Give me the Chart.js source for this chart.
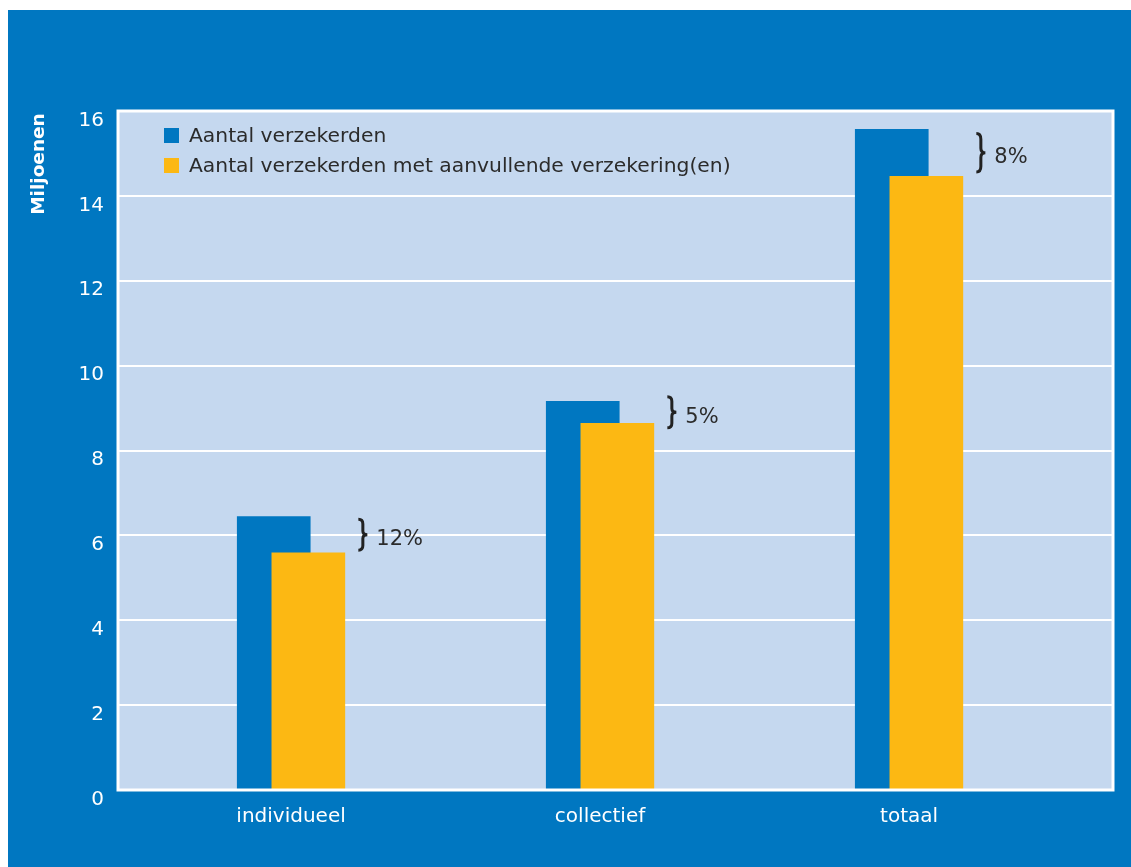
<!DOCTYPE html>
<html>
<head>
<meta charset="utf-8">
<script src="https://cdn.jsdelivr.net/npm/chart.js@4.4.1/dist/chart.umd.min.js"></script>
<style>
    html, body { margin: 0; padding: 0; background: #ffffff; }
    #panel {
        position: absolute;
        left: 8px; top: 10px;
        width: 1123px; height: 857px;
        background: #0077c1;
    }
</style>
</head>
<body>
<div id="panel"><canvas id="chart" width="1123" height="857"></canvas></div>
<script>
// ─── Data ────────────────────────────────────────────────
const categories = ['individueel', 'collectief', 'totaal'];
const insured = [6.44, 9.16, 15.57];          // Aantal verzekerden (miljoenen)
const supplementary = [5.59, 8.64, 14.46];    // met aanvullende verzekering(en)
const gapLabels = ['12%', '5%', '8%'];
const yTicks = [0, 2, 4, 6, 8, 10, 12, 14, 16];
const seriesNames = ['Aantal verzekerden', 'Aantal verzekerden met aanvullende verzekering(en)'];

// Colours
const colors = {
    blue: '#0077c1',
    yellow: '#fcb813',
    plot: '#c5d8ef',
    white: '#ffffff',
    ink: '#2b2b2b'
};
const FONT = "'DejaVu Sans', sans-serif";
const SHIFT = 0.056; // half offset between the two overlapping bars (category units)

// Plot background + white frame
const plotFrame = {
    id: 'plotFrame',
    beforeDraw(chart) {
        const { ctx, chartArea: a } = chart;
        ctx.save();
        ctx.fillStyle = colors.plot;
        ctx.fillRect(a.left, a.top, a.right - a.left, a.bottom - a.top);
        ctx.restore();
    },
    afterDatasetsDraw(chart) {
        const { ctx, chartArea: a } = chart;
        ctx.save();
        ctx.strokeStyle = colors.white;
        ctx.lineWidth = 3;
        ctx.strokeRect(a.left, a.top, a.right - a.left, a.bottom - a.top);
        ctx.restore();
    }
};

// Legend inside the plot, title on the left, braces with percentages
const annotations = {
    id: 'annotations',
    afterDraw(chart) {
        const { ctx, chartArea: a, scales } = chart;
        ctx.save();

        // legend
        const swatches = [colors.blue, colors.yellow];
        ctx.font = `20.3px ${FONT}`;
        ctx.textBaseline = 'middle';
        ctx.textAlign = 'left';
        seriesNames.forEach((name, i) => {
            const y = a.top + 25 + i * 30;
            ctx.fillStyle = swatches[i];
            ctx.fillRect(a.left + 46, y - 8, 15, 15);
            ctx.fillStyle = colors.ink;
            ctx.fillText(name, a.left + 71, y + 1);
        });

        // axis title
        ctx.save();
        ctx.translate(31, a.top + 53);
        ctx.rotate(-Math.PI / 2);
        ctx.font = `bold 18.5px ${FONT}`;
        ctx.fillStyle = colors.white;
        ctx.textAlign = 'center';
        ctx.fillText('Miljoenen', 0, 0);
        ctx.restore();

        // braces
        const meta = chart.getDatasetMeta(0);
        meta.data.forEach((bar, i) => {
            const yTop = scales.y.getPixelForValue(insured[i]);
            const yBot = scales.y.getPixelForValue(supplementary[i]);
            const mid = (yTop + yBot) / 2;
            const h = Math.max(31, (yBot - yTop) * 0.82);
            const y1 = mid - h / 2, y2 = mid + h / 2;
            const x0 = scales.x.getPixelForValue(i + SHIFT) + 36 + 14;
            const w = 9;
            ctx.beginPath();
            ctx.moveTo(x0, y1);
            ctx.quadraticCurveTo(x0 + w / 2, y1, x0 + w / 2, y1 + h * 0.15);
            ctx.lineTo(x0 + w / 2, mid - h * 0.12);
            ctx.quadraticCurveTo(x0 + w / 2, mid, x0 + w, mid);
            ctx.quadraticCurveTo(x0 + w / 2, mid, x0 + w / 2, mid + h * 0.12);
            ctx.lineTo(x0 + w / 2, y2 - h * 0.15);
            ctx.quadraticCurveTo(x0 + w / 2, y2, x0, y2);
            ctx.strokeStyle = '#222';
            ctx.lineWidth = 3;
            ctx.stroke();

            ctx.font = `21px ${FONT}`;
            ctx.fillStyle = colors.ink;
            ctx.textAlign = 'left';
            ctx.textBaseline = 'middle';
            ctx.fillText(gapLabels[i], x0 + w + 9, mid + 5);
        });

        ctx.restore();
    }
};

const ctx = document.getElementById('chart');

new Chart(ctx, {
    type: 'bar',
    data: {
        datasets: [
            {
                label: seriesNames[1],
                data: supplementary.map((v, i) => ({ x: i + SHIFT, y: v })),
                backgroundColor: colors.yellow,
                order: 0
            },
            {
                label: seriesNames[0],
                data: insured.map((v, i) => ({ x: i - SHIFT, y: v })),
                backgroundColor: colors.blue,
                order: 1
            }
        ]
    },
    options: {
        responsive: false,
        animation: false,
        layout: { padding: { top: 101, right: 18, left: 0, bottom: 27 } },
        datasets: { bar: { grouped: false, barThickness: 73 } },
        plugins: {
            legend: { display: false },
            tooltip: { enabled: false }
        },
        scales: {
            x: {
                type: 'linear',
                offset: false,
                min: -0.56,
                max: 2.66,
                afterFit: s => { s.height = 50; },
                afterBuildTicks: s => { s.ticks = categories.map((c, i) => ({ value: i })); },
                grid: { display: false, drawTicks: false },
                border: { display: false },
                ticks: {
                    color: colors.white,
                    padding: 15,
                    font: { family: FONT, size: 20 },
                    callback: v => categories[v] ?? ''
                }
            },
            y: {
                min: 0,
                max: 16,
                afterFit: s => { s.width = 110; },
                afterBuildTicks: s => { s.ticks = yTicks.map(v => ({ value: v })); },
                grid: { color: colors.white, lineWidth: 2, drawTicks: false },
                border: { display: false },
                ticks: {
                    color: colors.white,
                    padding: 14,
                    labelOffset: 9.5,
                    font: { family: FONT, size: 20 }
                }
            }
        }
    },
    plugins: [plotFrame, annotations]
});
</script>
</body>
</html>
